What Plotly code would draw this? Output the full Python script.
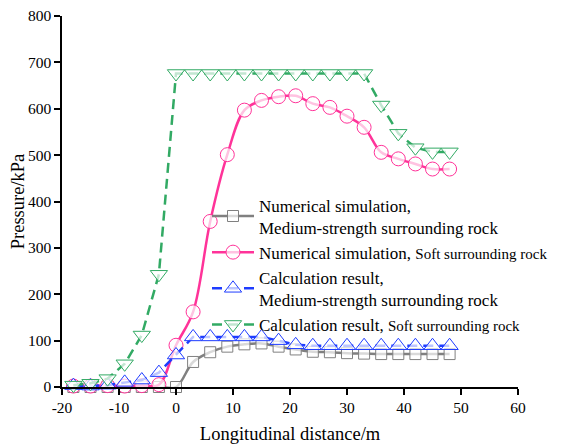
import plotly.graph_objects as go

x = [-18, -15, -12, -9, -6, -3, 0, 3, 6, 9, 12, 15, 18, 21, 24, 27, 30, 33, 36, 39, 42, 45, 48]

num_medium = [0, 0, 0, 0, 0, 0, 0, 54, 75, 87, 92, 94, 87, 81, 76, 75, 73, 72, 71, 71, 71, 71, 71]
num_soft = [2, 2, 3, 2, 3, 5, 90, 162, 357, 501, 597, 618, 626, 628, 611, 603, 584, 560, 506, 492, 481, 470, 470]
calc_medium = [3, 2, 4, 10, 15, 31, 69, 108, 108, 108, 108, 108, 100, 91, 89, 89, 89, 89, 89, 89, 89, 89, 89]
calc_soft = [4, 8, 18, 50, 112, 243, 676, 676, 676, 676, 676, 676, 676, 676, 676, 676, 676, 676, 608, 547, 516, 507, 507]

names = [
    "Numerical simulation,<br>Medium-strength surrounding rock",
    "Numerical simulation, <span style='font-size:15px'>Soft surrounding rock</span>",
    "Calculation result,<br>Medium-strength surrounding rock",
    "Calculation result, <span style='font-size:15px'>Soft surrounding rock</span>",
]

x_ticks = [-20, -10, 0, 10, 20, 30, 40, 50, 60]
y_ticks = [0, 100, 200, 300, 400, 500, 600, 700, 800]

FONT = "Liberation Serif, Times New Roman, serif"
fill = "rgba(255,255,255,0.7)"

fig = go.Figure()
fig.add_trace(go.Scatter(
    x=x, y=num_medium, name=names[0], mode="lines+markers",
    line=dict(color="rgb(128,128,128)", width=2.5, shape="spline"),
    marker=dict(symbol="square", size=11, color=fill, line=dict(color="rgb(128,128,128)", width=1)),
    cliponaxis=False))
fig.add_trace(go.Scatter(
    x=x, y=num_soft, name=names[1], mode="lines+markers",
    line=dict(color="rgb(255,51,153)", width=2.5, shape="spline"),
    marker=dict(symbol="circle", size=14, color=fill, line=dict(color="rgb(255,51,153)", width=1)),
    cliponaxis=False))
fig.add_trace(go.Scatter(
    x=x, y=calc_medium, name=names[2], mode="lines+markers",
    line=dict(color="rgb(30,60,255)", width=2.5, dash="10px,6px"),
    marker=dict(symbol="triangle-up", size=15, color=fill, line=dict(color="rgb(30,60,255)", width=1)),
    cliponaxis=False))
fig.add_trace(go.Scatter(
    x=x, y=calc_soft, name=names[3], mode="lines+markers",
    line=dict(color="rgb(50,170,100)", width=2.5, dash="10px,6px"),
    marker=dict(symbol="triangle-down", size=15, color=fill, line=dict(color="rgb(50,170,100)", width=1)),
    cliponaxis=False))

# page body has an 8px margin, so the figure is drawn 8px smaller and margins shifted
fig.update_layout(
    width=553, height=436,
    margin=dict(l=54, r=40, t=8, b=57),
    paper_bgcolor="white", plot_bgcolor="white",
    font=dict(family=FONT, size=15.5, color="black"),
    showlegend=True,
    legend=dict(x=0.318, y=0.538, xanchor="left", yanchor="top",
                bgcolor="rgba(0,0,0,0)", font=dict(family=FONT, size=17, color="black"),
                itemwidth=42, tracegroupgap=0),
    xaxis=dict(range=[-20, 60], tickvals=x_ticks, ticktext=[str(v) for v in x_ticks],
               showline=True, linecolor="black", linewidth=1.5, automargin=False,
               ticks="outside", ticklen=6, tickwidth=1.5, tickcolor="black",
               showgrid=False, zeroline=False, ticklabeloverflow="allow",
               title=dict(text="Longitudinal distance/m", font=dict(family=FONT, size=18.5), standoff=16)),
    yaxis=dict(range=[0, 800], tickvals=y_ticks, ticktext=[str(v) for v in y_ticks],
               showline=True, linecolor="black", linewidth=1.5, automargin=False,
               ticks="outside", ticklen=6, tickwidth=1.5, tickcolor="black",
               showgrid=False, zeroline=False, ticklabeloverflow="allow",
               title=dict(text="Pressure/kPa", font=dict(family=FONT, size=18.5), standoff=11)),
)

fig.write_html("out.html")
